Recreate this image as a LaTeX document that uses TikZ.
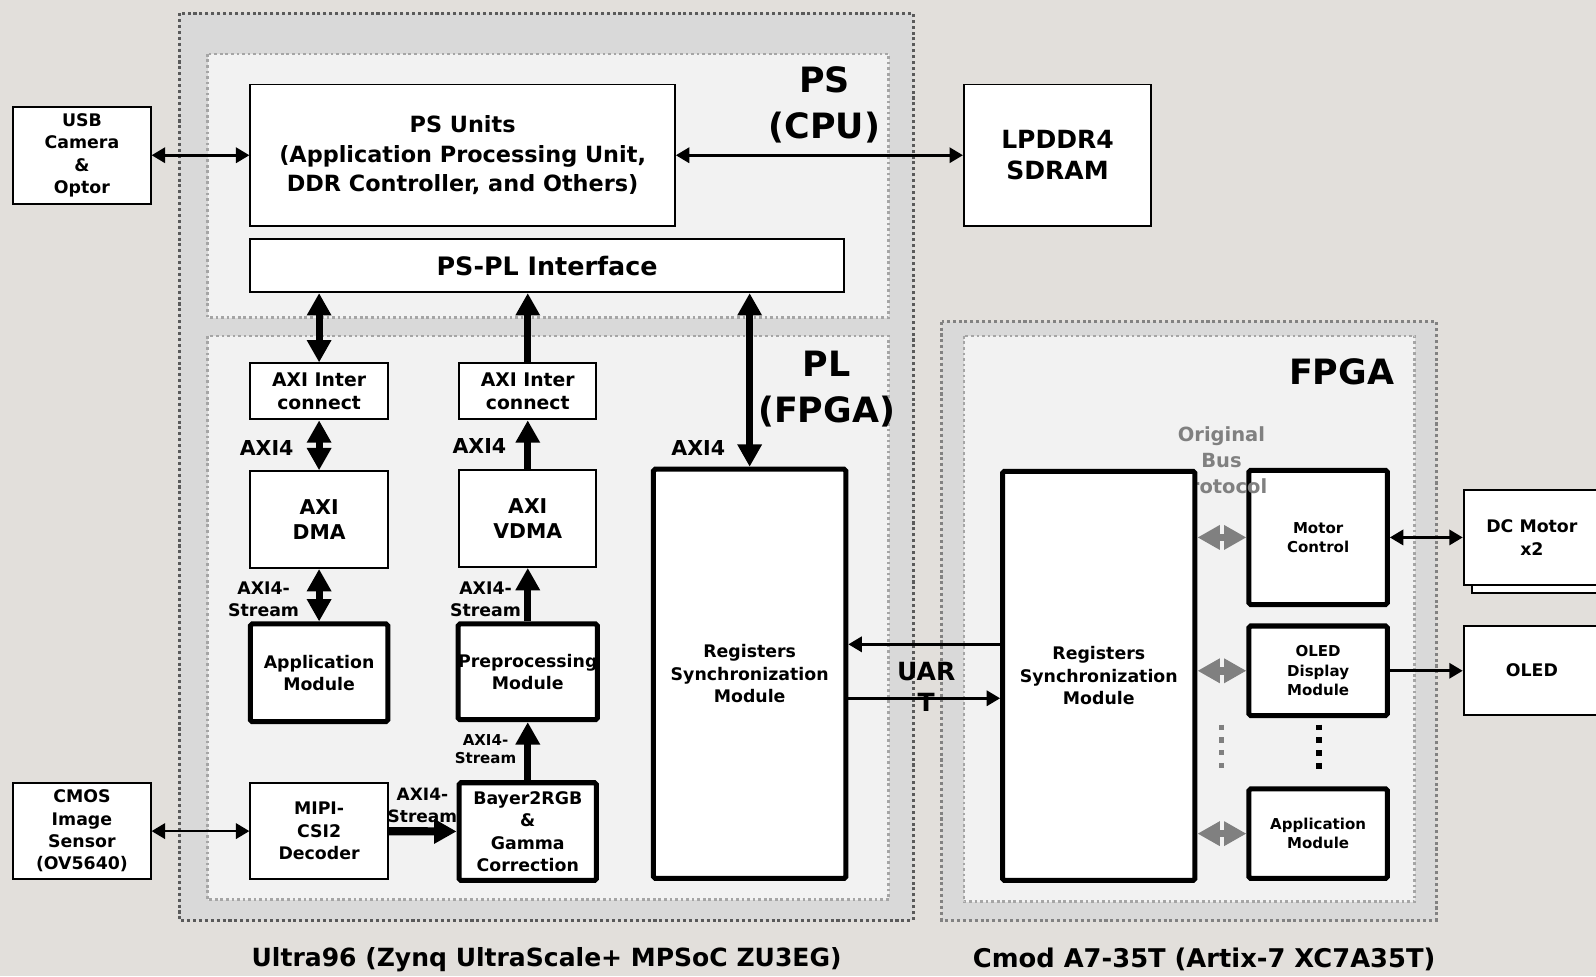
\documentclass[tikz,border=0pt]{standalone}
\usepackage{fontspec}
\setmainfont{DejaVu Sans}
\usetikzlibrary{arrows.meta}
\definecolor{bgwarm}{RGB}{226,223,219}
\definecolor{boardfill}{RGB}{217,217,217}
\definecolor{areafill}{RGB}{242,242,242}
\definecolor{boarddraw}{RGB}{90,90,90}
\definecolor{boarddrawb}{RGB}{130,130,130}
\definecolor{areadraw}{RGB}{165,165,165}
\definecolor{busgray}{RGB}{128,128,128}

\begin{document}
\begin{tikzpicture}[x=0.2mm, y=-0.2mm,
  font=\bfseries,
  blk/.style={draw, line width=1.1pt, fill=white, align=center, inner sep=0pt,
    font=\bfseries\fontsize{9.7pt}{12.5pt}\selectfont},
  hblk/.style={blk, line width=2.8pt, rounded corners=1pt},
  board/.style={line width=1.7pt, dash pattern=on 1.7pt off 1.6pt, fill=boardfill},
  area/.style={draw=areadraw, line width=1.5pt, dash pattern=on 1.5pt off 1.6pt, fill=areafill},
  lbl/.style={align=center, inner sep=0pt, font=\bfseries\fontsize{9.7pt}{12.5pt}\selectfont},
  arr/.style={-{Triangle[length=7.5pt,width=8.5pt]}, line width=1.5pt},
  biarr/.style={{Triangle[length=7.5pt,width=8.5pt]}-{Triangle[length=7.5pt,width=8.5pt]}, line width=1.5pt},
  fat/.style={-{Triangle[length=12.5pt,width=13pt]}, line width=4pt},
  fatbi/.style={{Triangle[length=12.5pt,width=13pt]}-{Triangle[length=12.5pt,width=13pt]}, line width=4pt},
  bus/.style={fatbi, draw=busgray, fill=busgray, line width=4.2pt}
]
\useasboundingbox (0,0) rectangle (1568,959);
\clip (0,0) rectangle (1568,959);
\fill[bgwarm] (0,0) rectangle (1568,959);

% boards and areas
\draw[board, draw=boarddraw] (176,13) rectangle (897,904);
\draw[area] (204,53) rectangle (873,312);
\draw[area] (204,330) rectangle (873,884);
\draw[board, draw=boarddrawb] (925,316) rectangle (1411,904);
\draw[area] (947,330) rectangle (1390,886);

% PS side
\node[lbl, font=\bfseries\fontsize{19.5pt}{25.6pt}\selectfont] (pslbl) at (810,103) {PS\\(CPU)};
\node[blk, minimum width=83.4mm, minimum height=27.8mm, font=\bfseries\fontsize{12.5pt}{16.5pt}\selectfont] (psu) at (454.5,152.5) {PS Units\\(Application Processing Unit,\\DDR Controller, and Others)};
\node[blk, minimum width=116.6mm, minimum height=10.4mm, font=\bfseries\fontsize{14.2pt}{16pt}\selectfont] (pspl) at (537.5,261) {PS-PL Interface};

% external devices
\node[blk, minimum width=27mm, minimum height=19mm] (usb) at (80.5,152.5) {USB\\Camera\\\&\\Optor};
\node[blk, minimum width=36.8mm, minimum height=27.8mm, font=\bfseries\fontsize{14pt}{17.6pt}\selectfont] (ddr) at (1039,152.5) {LPDDR4\\SDRAM};
\node[blk, minimum width=27mm, minimum height=19mm] (cmos) at (80.5,816.5) {CMOS\\Image\\Sensor\\(OV5640)};

% PL side
\node[lbl, font=\bfseries\fontsize{19.5pt}{25.6pt}\selectfont] (pllbl) at (812,382) {PL\\(FPGA)};
\node[blk, minimum width=27mm, minimum height=11mm, font=\bfseries\fontsize{10.5pt}{12.5pt}\selectfont] (icA) at (313.5,384.5) {AXI Inter\\connect};
\node[blk, minimum width=27mm, minimum height=11mm, font=\bfseries\fontsize{10.5pt}{12.5pt}\selectfont] (icB) at (518.5,384.5) {AXI Inter\\connect};
\node[blk, minimum width=27mm, minimum height=19mm, font=\bfseries\fontsize{11.4pt}{14.2pt}\selectfont] (dma) at (313.5,510.5) {AXI\\DMA};
\node[blk, minimum width=27mm, minimum height=19mm, font=\bfseries\fontsize{11.4pt}{14.2pt}\selectfont] (vdma) at (518.5,509.5) {AXI\\VDMA};
\node[hblk, minimum width=27mm, minimum height=19.2mm] (appA) at (313.5,661) {Application\\Module};
\node[hblk, minimum width=27mm, minimum height=18.8mm] (prep) at (518.5,660) {Preprocessing\\Module};
\node[blk, minimum width=27mm, minimum height=19mm] (mipi) at (313.5,816.5) {MIPI-\\CSI2\\Decoder};
\node[hblk, minimum width=27mm, minimum height=19.2mm] (bayer) at (518.5,817) {Bayer2RGB\\\&\\Gamma\\Correction};
\node[hblk, minimum width=37.8mm, minimum height=80.4mm] (regA) at (736.5,662) {Registers\\Synchronization\\Module};

\node[lbl, font=\bfseries\fontsize{11.5pt}{13pt}\selectfont] (axiA) at (262,440) {AXI4};
\node[lbl, font=\bfseries\fontsize{11.5pt}{13pt}\selectfont] (axiB) at (471,438) {AXI4};
\node[lbl, font=\bfseries\fontsize{11.5pt}{13pt}\selectfont] (axiC) at (686,440) {AXI4};
\node[lbl] (strA) at (259,589) {AXI4-\\Stream};
\node[lbl] (strB) at (477,589) {AXI4-\\Stream};
\node[lbl, font=\bfseries\fontsize{8.4pt}{10.3pt}\selectfont] (strC) at (477,736) {AXI4-\\Stream};
\node[lbl, font=\bfseries\fontsize{9.5pt}{12.5pt}\selectfont] (strD) at (415,791) {AXI4-\\Stream};

% Cmod side
\node[lbl, font=\bfseries\fontsize{19.5pt}{25.6pt}\selectfont] (fpgalbl) at (1318,365) {FPGA};
\node[hblk, minimum width=27.2mm, minimum height=26.4mm, font=\bfseries\fontsize{8.4pt}{10.8pt}\selectfont] (motor) at (1295,528) {Motor\\Control};
\node[lbl, text=busgray, font=\bfseries\fontsize{10.9pt}{14.5pt}\selectfont] (buslbl) at (1200,452) {Original\\Bus\\Protocol};
\node[hblk, minimum width=37.8mm, minimum height=80.4mm] (regB) at (1079.5,664) {Registers\\Synchronization\\Module};
\node[hblk, minimum width=27.2mm, minimum height=17.6mm, font=\bfseries\fontsize{8.4pt}{10.8pt}\selectfont] (oledm) at (1295,659) {OLED\\Display\\Module};
\node[hblk, minimum width=27.2mm, minimum height=17.6mm, font=\bfseries\fontsize{8.4pt}{10.8pt}\selectfont] (appB) at (1295,819) {Application\\Module};
\node[blk, minimum width=26.8mm, minimum height=18.8mm] (dcmb) at (1513,536) {};
\node[blk, minimum width=26.8mm, minimum height=18.8mm] (dcm) at (1505,528) {DC Motor\\x2};
\node[blk, minimum width=26.8mm, minimum height=17.4mm] (oled) at (1505,658.5) {OLED};

\node[lbl, font=\bfseries\fontsize{14pt}{17pt}\selectfont] (uartlbl) at (910,675) {UAR\\T};
\coordinate (uartrx) at (900,633);
\coordinate (uarttx) at (900,686);

% connectors
\draw[biarr] (usb) -- (psu);
\draw[biarr] (psu) -- (ddr);
\draw[biarr] (cmos) -- (mipi);
\draw[fat, line width=4.6pt] (mipi) -- (bayer);
\draw[fatbi] (icA.north) -- (icA.north |- pspl.south);
\draw[fatbi] (icA) -- (dma);
\draw[fatbi] (dma) -- (appA);
\draw[fat] (icB.north) -- (icB.north |- pspl.south);
\draw[fat] (vdma) -- (icB);
\draw[fat] (prep) -- (vdma);
\draw[fat] (bayer) -- (prep);
\draw[fatbi] (regA.north) -- (regA.north |- pspl.south);
\draw[arr] (regB.west |- uartrx) -- (regA.east |- uartrx);
\draw[arr] (regA.east |- uarttx) -- (regB.west |- uarttx);
\draw[bus] (regB.east |- motor.west) -- (motor.west);
\draw[bus] (regB.east |- oledm.west) -- (oledm.west);
\draw[bus] (regB.east |- appB.west) -- (appB.west);
\draw[biarr] (motor.east) -- (motor.east -| dcm.west);
\draw[arr] (oledm.east) -- (oledm.east -| oled.west);

% more modules
\draw[busgray, line width=2.9pt, dash pattern=on 2.9pt off 4.2pt] (1200,712) -- (1200,756);
\draw[line width=3.2pt, dash pattern=on 3.2pt off 3.9pt] (1296,712) -- (1296,756);

\node[lbl, font=\bfseries\fontsize{14pt}{17pt}\selectfont] (ultralbl) at (537,943) {Ultra96 (Zynq UltraScale+ MPSoC ZU3EG)};
\node[lbl, font=\bfseries\fontsize{14.4pt}{17pt}\selectfont] (cmodlbl) at (1183,943) {Cmod A7-35T (Artix-7 XC7A35T)};
\end{tikzpicture}
\end{document}
